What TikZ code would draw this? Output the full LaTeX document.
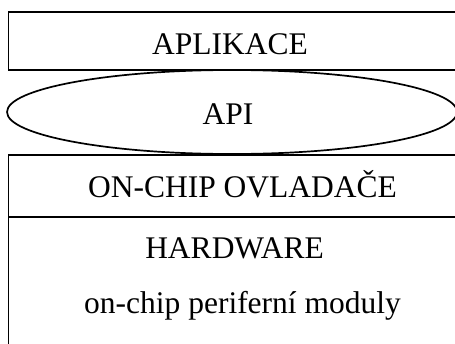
\documentclass[tikz,border=0pt]{standalone}
\usepackage{fontspec}
\setmainfont{Liberation Serif}

\begin{document}
\begin{tikzpicture}[x=1pt,y=-1pt,line width=1.7pt,
	every node/.style={font=\fontsize{31.5}{36}\selectfont,inner sep=0pt,anchor=base}]
	\useasboundingbox (0,0) rectangle (455,343);
	\clip (0,0) rectangle (455,343);
	
	%application layer
	\draw (8.5,12) rectangle (470,70);
	\node (aplikace) at (230,54) {APLIKACE};
	
	%interface between the layers
	\draw (232,112) ellipse [x radius=225,y radius=42];
	\node (api) at (228,124.5) {API};
	
	%drivers and hardware in one box, split by a line
	\draw (8.5,155) rectangle (470,360);
	\draw (8.5,217) -- (470,217);
	\node (ovladace) at (242.5,197) {ON-CHIP OVLADAČE};
	\node (hardware) at (234.5,258) {HARDWARE};
	\node (moduly) at (242.5,313) {on-chip periferní moduly};
\end{tikzpicture}
\end{document}
